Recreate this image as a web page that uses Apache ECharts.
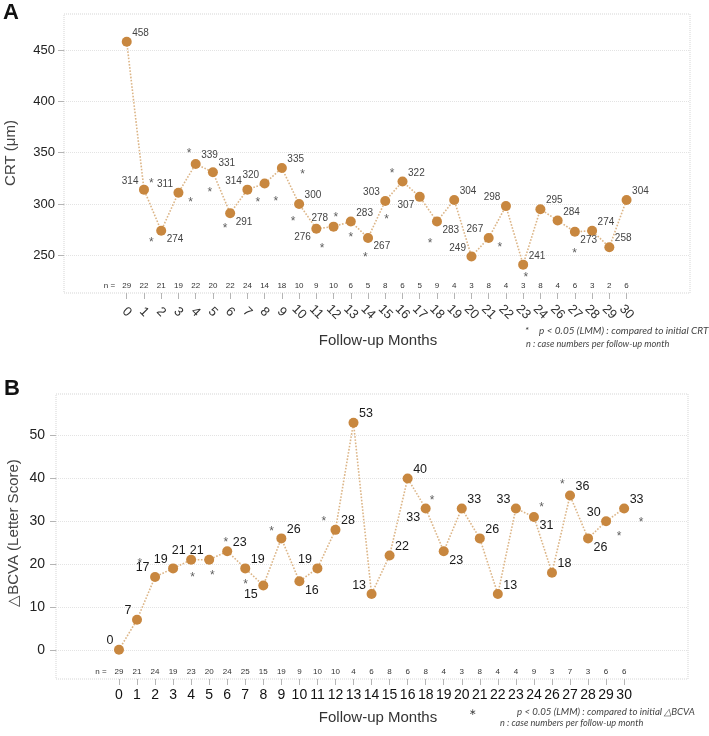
<!DOCTYPE html>
<html><head><meta charset="utf-8">
<script src="https://cdn.jsdelivr.net/npm/echarts@6/dist/echarts.min.js"></script>
<style>html,body{margin:0;padding:0;background:#fff}#c{width:709px;height:736px}</style>
</head><body><div id="c"></div>
<script>
// ---------- Panel A : CRT ----------
const monthsA = ['0','1','2','3','4','5','6','7','8','9','10','11','12','13','14','15','16','17','18','19','20','21','22','23','24','26','27','28','29','30'];
const crtValues = [458,314,274,311,339,331,291,314,320,335,300,276,278,283,267,303,322,307,283,304,249,267,298,241,295,284,273,274,258,304];
const crtN = [29,22,21,19,22,20,22,24,14,18,10,9,10,6,5,8,6,5,9,4,3,8,4,3,8,4,6,3,2,6];
const crtTicks = [250,300,350,400,450];
// significance marks (category index, value)
const crtStarX = [1.43,1.43,3.62,3.70,4.82,5.71,7.60,8.65,10.2,9.65,11.34,12.13,13.0,13.85,15.4,15.07,17.6,21.65,23.16,25.98];
const crtStarY = [323.6,265.3,352.1,304.2,313.9,279.2,304.2,305.2,332.1,286.4,259.7,290.3,270.5,250.7,332.4,288,264.6,260.4,231.2,254.6];
const crtLabelSide = ['tr','tl','br','tl','tr','tr','br','tl','tl','tr','tr','bl','tl','tr','br','tl','tr','bl','br','tr','tl','tl','tl','tr','tr','tr','br','tr','tr','tr'];

// ---------- Panel B : BCVA ----------
const monthsB = ['0','1','2','3','4','5','6','7','8','9','10','11','12','13','14','15','16','18','19','20','21','22','23','24','26','27','28','29','30'];
const bcvaValues = [0,7,17,19,21,21,23,19,15,26,16,19,28,53,13,22,40,33,23,33,26,13,33,31,18,36,26,30,33];
const bcvaN = [29,21,24,19,23,20,24,25,15,19,9,10,10,4,6,8,6,8,4,3,8,4,4,9,3,7,3,6,6];
const bcvaTicks = [0,10,20,30,40,50];
const bcvaStarX = [1.16,4.08,5.17,5.93,7.02,8.46,11.36,17.36,23.42,24.58,27.72,28.94];
const bcvaStarY = [20.8,17.6,18.1,25.9,16.1,28.4,30.8,35.5,34.0,39.3,27.3,30.5];
const bcvaLabelSide = ['tl','tl','tl','tl','tl','tl','tr','tr','bl','tr','br','tl','tr','tr','tl','tr','tr','bl','br','tr','tr','tr','tl','br','tr','tr','br','tl','tr'];

const FONT = 'Liberation Sans, Arial, sans-serif';
const PT = '#c8873f', LN = '#dcb587';

function labelFor(side, fs, dy) {
  const right = side[1] === 'r', top = side[0] === 't';
  return {show:true, position:'inside', align: right ? 'left':'right', verticalAlign:'middle',
    offset:[right ? 5.5 : -5.5, top ? -dy : dy], fontSize:fs, color: fs > 11 ? '#1a1a1a' : '#444', fontFamily:FONT};
}
function idxArr(n){ const a=[]; for(let i=0;i<n;i++) a.push(i); return a; }

const chart = echarts.init(document.getElementById('c'), null, {renderer:'canvas'});

const idxA = idxArr(monthsA.length), idxB = idxArr(monthsB.length);
const evenA = idxA.filter(i => i % 2 === 0), oddA = idxA.filter(i => i % 2 === 1);

function rotatedLabels(grid, min, max, idx, months, withTicks) {
  return {gridIndex:grid, type:'value', min:min, max:max, position:'bottom',
    axisLine:{show:false, onZero:false}, splitLine:{show:false},
    axisTick:{show:withTicks, length:6, customValues: idxA, lineStyle:{color:'#b5b5b5'}},
    axisLabel:{customValues: idx, showMinLabel:true, showMaxLabel:true, hideOverlap:false,
      formatter: v => months[Math.round(v)], rotate:-45, align:'center', verticalAlign:'middle',
      margin:19, fontSize:13, color:'#333', fontFamily:FONT}};
}
function xPlain(grid, min, max, idx, months) {
  return {gridIndex:grid, type:'value', min:min, max:max, position:'bottom',
    axisLine:{show:false, onZero:false}, splitLine:{show:false},
    axisTick:{show:true, length:6, customValues: idx, lineStyle:{color:'#b5b5b5'}},
    axisLabel:{customValues: idx, showMinLabel:true, showMaxLabel:true, hideOverlap:false,
      formatter: v => months[Math.round(v)], margin:9, fontSize:14, color:'#111', fontFamily:FONT}};
}
function xN(grid, min, max, idx, ns) {
  return {gridIndex:grid, type:'value', min:min, max:max, position:'bottom',
    axisLine:{show:false, onZero:false}, splitLine:{show:false}, axisTick:{show:false},
    axisLabel:{inside:true, showMinLabel:true, showMaxLabel:true, hideOverlap:false, customValues:[-1].concat(idx), formatter: v => v < 0 ? 'n =' : String(ns[Math.round(v)]),
      margin:7.5, verticalAlign:'middle', fontSize:8, color:'#333', fontFamily:FONT}};
}
function yAx(grid, min, max, ticks, fs, margin) {
  return {gridIndex:grid, type:'value', min:min, max:max, position:'left',
    axisLine:{show:false, onZero:false},
    axisTick:{show:true, length:6, customValues:ticks, lineStyle:{color:'#b5b5b5'}},
    axisLabel:{customValues:ticks, fontSize:fs, color:'#222', margin:margin, fontFamily:FONT},
    splitLine:{show:true, lineStyle:{color:'#e3e3e3', type:'dotted', width:1}}};
}

const option = {
  animation:false,
  backgroundColor:'#fff',
  grid:[
    {left:64, top:14, right:19, bottom:443, show:true, borderColor:'#d5d5d5', borderWidth:1, borderType:'dotted', backgroundColor:'transparent'},
    {left:56, top:394, right:21, bottom:57, show:true, borderColor:'#d5d5d5', borderWidth:1, borderType:'dotted', backgroundColor:'transparent'}
  ],
  xAxis:[
    rotatedLabels(0, -3.64, 32.68, evenA, monthsA, true),
    xN(0, -3.64, 32.68, idxA, crtN),
    xPlain(1, -3.49, 31.54, idxB, monthsB),
    xN(1, -3.49, 31.54, idxB, bcvaN),
    rotatedLabels(0, -3.64, 32.68, oddA, monthsA, false)
  ],
  yAxis:[
    yAx(0, 213.4, 485, crtTicks, 13, 9),
    yAx(1, -6.83, 59.72, bcvaTicks, 14, 11)
  ],
  series:[
    {type:'line', xAxisIndex:0, yAxisIndex:0, symbol:'circle', symbolSize:10, silent:true,
      itemStyle:{color:PT}, lineStyle:{color:LN, width:1.6, type:'dotted'},
      data: crtValues.map((v,i)=>({value:[i,v], label:labelFor(crtLabelSide[i], 10, 8.5)})), z:3},
    {type:'scatter', xAxisIndex:0, yAxisIndex:0, symbolSize:1, silent:true, itemStyle:{color:'rgba(0,0,0,0)'},
      label:{show:true, position:'inside', formatter:'*', fontSize:12, color:'#333', offset:[0,3.4], fontFamily:FONT},
      data: crtStarX.map((x,i)=>[x, crtStarY[i]])},
    {type:'line', xAxisIndex:2, yAxisIndex:1, symbol:'circle', symbolSize:10, silent:true,
      itemStyle:{color:PT}, lineStyle:{color:LN, width:1.6, type:'dotted'},
      data: bcvaValues.map((v,i)=>({value:[i,v], label:labelFor(bcvaLabelSide[i], 12.5, 9)})), z:3},
    {type:'scatter', xAxisIndex:2, yAxisIndex:1, symbolSize:1, silent:true, itemStyle:{color:'rgba(0,0,0,0)'},
      label:{show:true, position:'inside', formatter:'*', fontSize:12, color:'#333', offset:[0,3.4], fontFamily:FONT},
      data: bcvaStarX.map((x,i)=>[x, bcvaStarY[i]])}
  ],
  graphic:[
    {type:'text', x:3, y:13, style:{text:'A', font:'bold 22px '+FONT, fill:'#111', verticalAlign:'middle'}},
    {type:'text', x:4, y:389, style:{text:'B', font:'bold 22px '+FONT, fill:'#111', verticalAlign:'middle'}},
    {type:'text', x:11, y:153, rotation:Math.PI/2, style:{text:'CRT (μm)', font:'15px '+FONT, fill:'#444', align:'center', verticalAlign:'middle'}},
    {type:'text', x:14, y:533, rotation:Math.PI/2, style:{text:'△BCVA (Letter Score)', font:'15px '+FONT, fill:'#444', align:'center', verticalAlign:'middle'}},
    {type:'text', x:378, y:341, style:{text:'Follow-up Months', font:'15px '+FONT, fill:'#333', align:'center', verticalAlign:'middle'}},
    {type:'text', x:378, y:718, style:{text:'Follow-up Months', font:'15px '+FONT, fill:'#333', align:'center', verticalAlign:'middle'}},
    {type:'text', x:527, y:331, style:{text:'*', font:'italic 9.5px Lato, sans-serif', fill:'#444', align:'center', verticalAlign:'middle'}},
    {type:'text', x:539, y:331, style:{text:'p < 0.05 (LMM) : compared to initial CRT', font:'italic 10px Lato, sans-serif', fill:'#444', verticalAlign:'middle'}},
    {type:'text', x:526, y:344, style:{text:'n : case numbers per follow-up month', font:'italic 9.2px Lato, sans-serif', fill:'#444', verticalAlign:'middle'}},
    {type:'text', x:473, y:712, style:{text:'∗', font:'9px Lato, sans-serif', fill:'#444', align:'center', verticalAlign:'middle'}},
    {type:'text', x:517, y:712, style:{text:'p < 0.05 (LMM) : compared to initial △BCVA', font:'italic 9.7px Lato, sans-serif', fill:'#444', verticalAlign:'middle'}},
    {type:'text', x:500, y:723, style:{text:'n : case numbers per follow-up month', font:'italic 9.2px Lato, sans-serif', fill:'#444', verticalAlign:'middle'}}
  ]
};
chart.setOption(option);
</script>
</body></html>
